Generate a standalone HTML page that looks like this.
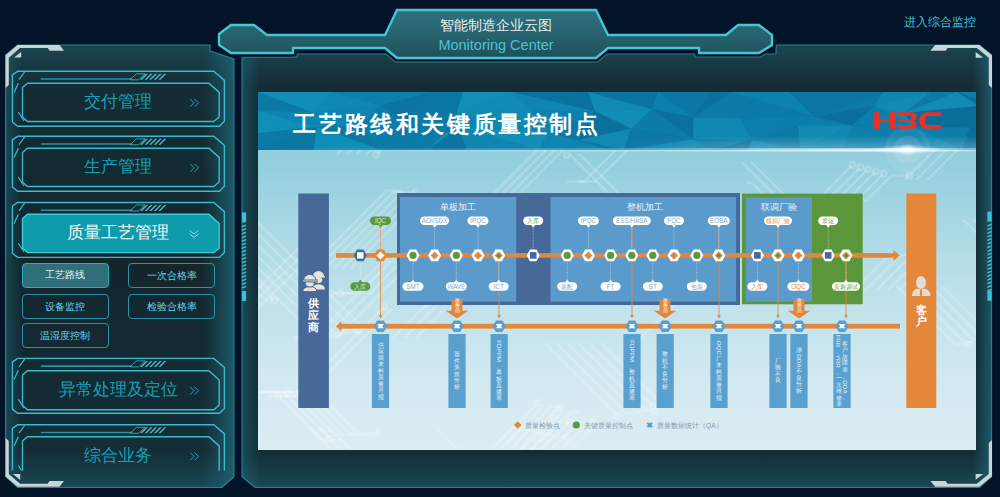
<!DOCTYPE html>
<html><head><meta charset="utf-8">
<style>
html,body{margin:0;padding:0}
body{width:1000px;height:497px;background:#041428;overflow:hidden;position:relative;font-family:"Liberation Sans",sans-serif}
.abs{position:absolute}
svg{position:absolute;left:0;top:0}
.mt{position:absolute;left:22px;width:192px;text-align:center;font-size:17px;color:#13a0b4;line-height:20px;white-space:nowrap}
.sub{position:absolute;width:87px;height:25px;border:1px solid #2a93a3;border-radius:4px;box-sizing:border-box;text-align:center;font-size:9.5px;line-height:23.5px;color:#68d6e6;white-space:nowrap}
</style></head><body>

<svg width="1000" height="497" viewBox="0 0 1000 497">
<defs>
<linearGradient id="pgv" x1="0" y1="0" x2="0" y2="1">
 <stop offset="0" stop-color="#1b4552"/><stop offset="0.09" stop-color="#142c35"/><stop offset="0.5" stop-color="#13262e"/><stop offset="0.92" stop-color="#142d37"/><stop offset="1" stop-color="#1a4855"/></linearGradient>
<linearGradient id="pgh" x1="0" y1="0" x2="1" y2="0">
 <stop offset="0" stop-color="#1c6070" stop-opacity="0.55"/><stop offset="0.07" stop-color="#1c6070" stop-opacity="0"/><stop offset="0.86" stop-color="#1c6070" stop-opacity="0"/><stop offset="1" stop-color="#1f6a7a" stop-opacity="0.75"/></linearGradient>
<linearGradient id="pgh2" x1="0" y1="0" x2="1" y2="0">
 <stop offset="0" stop-color="#1c6070" stop-opacity="0.6"/><stop offset="0.025" stop-color="#1c6070" stop-opacity="0"/><stop offset="0.975" stop-color="#1c6070" stop-opacity="0"/><stop offset="1" stop-color="#1f6a7a" stop-opacity="0.75"/></linearGradient>
<linearGradient id="hg" x1="0" y1="0" x2="0" y2="1">
 <stop offset="0" stop-color="#2e727d"/><stop offset="0.6" stop-color="#255f6b"/><stop offset="1" stop-color="#1e505c"/></linearGradient>
<linearGradient id="wg" x1="0" y1="0" x2="0" y2="1">
 <stop offset="0" stop-color="#2c6b76"/><stop offset="1" stop-color="#1f5560"/></linearGradient>
</defs>
<path d="M5.6,55 L17.6,45 L210,45 L210,51 L234,59 L234,476.7 L222,487.5 L17.6,487.5 L5.6,476.5 Z" fill="url(#pgv)"/>
<path d="M5.6,55 L17.6,45 L210,45 L210,51 L234,59 L234,476.7 L222,487.5 L17.6,487.5 L5.6,476.5 Z" fill="url(#pgh)"/>
<path d="M5.6,55 L17.6,45 L210,45 L210,51 L234,59 L234,476.7 L222,487.5 L17.6,487.5 L5.6,476.5 Z" fill="none" stroke="#2e8d9c" stroke-opacity="0.85" stroke-width="1.1"/>
<path d="M242,57 L293,57 L293,54 L776,54 L776,45 L979.6,45 L991.6,55 L991.6,476.5 L979.6,487.5 L255,487.5 L242,476.7 Z" fill="url(#pgv)"/>
<path d="M242,57 L293,57 L293,54 L776,54 L776,45 L979.6,45 L991.6,55 L991.6,476.5 L979.6,487.5 L255,487.5 L242,476.7 Z" fill="url(#pgh2)"/>
<path d="M242,57 L293,57 L293,54 L776,54 L776,45 L979.6,45 L991.6,55 L991.6,476.5 L979.6,487.5 L255,487.5 L242,476.7 Z" fill="none" stroke="#2e8d9c" stroke-opacity="0.85" stroke-width="1.1"/>
<rect x="241.9" y="212.4" width="4.2" height="10" fill="#3ec0cf"/>
<rect x="241.9" y="291" width="4.2" height="10" fill="#3ec0cf"/>
<path d="M241.9,226.0 L246.1,224.4 L246.1,226.0 L241.9,227.6 Z" fill="#3ec0cf"/>
<path d="M241.9,229.6 L246.1,228.0 L246.1,229.6 L241.9,231.2 Z" fill="#3ec0cf"/>
<path d="M241.9,233.2 L246.1,231.6 L246.1,233.2 L241.9,234.79999999999998 Z" fill="#3ec0cf"/>
<path d="M241.9,236.79999999999998 L246.1,235.2 L246.1,236.79999999999998 L241.9,238.39999999999998 Z" fill="#3ec0cf"/>
<path d="M241.9,240.39999999999998 L246.1,238.79999999999998 L246.1,240.39999999999998 L241.9,241.99999999999997 Z" fill="#3ec0cf"/>
<path d="M241.9,243.99999999999997 L246.1,242.39999999999998 L246.1,243.99999999999997 L241.9,245.59999999999997 Z" fill="#3ec0cf"/>
<path d="M241.9,247.59999999999997 L246.1,245.99999999999997 L246.1,247.59999999999997 L241.9,249.19999999999996 Z" fill="#3ec0cf"/>
<path d="M241.9,251.19999999999996 L246.1,249.59999999999997 L246.1,251.19999999999996 L241.9,252.79999999999995 Z" fill="#3ec0cf"/>
<path d="M241.9,254.79999999999995 L246.1,253.19999999999996 L246.1,254.79999999999995 L241.9,256.4 Z" fill="#3ec0cf"/>
<path d="M241.9,258.4 L246.1,256.79999999999995 L246.1,258.4 L241.9,259.99999999999994 Z" fill="#3ec0cf"/>
<path d="M241.9,262.0 L246.1,260.4 L246.1,262.0 L241.9,263.59999999999997 Z" fill="#3ec0cf"/>
<path d="M241.9,265.6 L246.1,264.0 L246.1,265.6 L241.9,267.2 Z" fill="#3ec0cf"/>
<path d="M241.9,269.20000000000005 L246.1,267.6 L246.1,269.20000000000005 L241.9,270.8 Z" fill="#3ec0cf"/>
<path d="M241.9,272.80000000000007 L246.1,271.20000000000005 L246.1,272.80000000000007 L241.9,274.40000000000003 Z" fill="#3ec0cf"/>
<path d="M241.9,276.4000000000001 L246.1,274.80000000000007 L246.1,276.4000000000001 L241.9,278.00000000000006 Z" fill="#3ec0cf"/>
<path d="M241.9,280.0000000000001 L246.1,278.4000000000001 L246.1,280.0000000000001 L241.9,281.6000000000001 Z" fill="#3ec0cf"/>
<path d="M241.9,283.60000000000014 L246.1,282.0000000000001 L246.1,283.60000000000014 L241.9,285.2000000000001 Z" fill="#3ec0cf"/>
<path d="M241.9,287.20000000000016 L246.1,285.60000000000014 L246.1,287.20000000000016 L241.9,288.8000000000001 Z" fill="#3ec0cf"/>
<rect x="987.4" y="211.6" width="4.2" height="10" fill="#3ec0cf"/>
<rect x="987.4" y="290.7" width="4.2" height="10" fill="#3ec0cf"/>
<path d="M987.4,225.2 L991.6,223.6 L991.6,225.2 L987.4,226.79999999999998 Z" fill="#3ec0cf"/>
<path d="M987.4,228.79999999999998 L991.6,227.2 L991.6,228.79999999999998 L987.4,230.39999999999998 Z" fill="#3ec0cf"/>
<path d="M987.4,232.39999999999998 L991.6,230.79999999999998 L991.6,232.39999999999998 L987.4,233.99999999999997 Z" fill="#3ec0cf"/>
<path d="M987.4,235.99999999999997 L991.6,234.39999999999998 L991.6,235.99999999999997 L987.4,237.59999999999997 Z" fill="#3ec0cf"/>
<path d="M987.4,239.59999999999997 L991.6,237.99999999999997 L991.6,239.59999999999997 L987.4,241.19999999999996 Z" fill="#3ec0cf"/>
<path d="M987.4,243.19999999999996 L991.6,241.59999999999997 L991.6,243.19999999999996 L987.4,244.79999999999995 Z" fill="#3ec0cf"/>
<path d="M987.4,246.79999999999995 L991.6,245.19999999999996 L991.6,246.79999999999995 L987.4,248.39999999999995 Z" fill="#3ec0cf"/>
<path d="M987.4,250.39999999999995 L991.6,248.79999999999995 L991.6,250.39999999999995 L987.4,251.99999999999994 Z" fill="#3ec0cf"/>
<path d="M987.4,253.99999999999994 L991.6,252.39999999999995 L991.6,253.99999999999994 L987.4,255.59999999999994 Z" fill="#3ec0cf"/>
<path d="M987.4,257.59999999999997 L991.6,255.99999999999994 L991.6,257.59999999999997 L987.4,259.19999999999993 Z" fill="#3ec0cf"/>
<path d="M987.4,261.2 L991.6,259.59999999999997 L991.6,261.2 L987.4,262.79999999999995 Z" fill="#3ec0cf"/>
<path d="M987.4,264.8 L991.6,263.2 L991.6,264.8 L987.4,266.4 Z" fill="#3ec0cf"/>
<path d="M987.4,268.40000000000003 L991.6,266.8 L991.6,268.40000000000003 L987.4,270.0 Z" fill="#3ec0cf"/>
<path d="M987.4,272.00000000000006 L991.6,270.40000000000003 L991.6,272.00000000000006 L987.4,273.6 Z" fill="#3ec0cf"/>
<path d="M987.4,275.6000000000001 L991.6,274.00000000000006 L991.6,275.6000000000001 L987.4,277.20000000000005 Z" fill="#3ec0cf"/>
<path d="M987.4,279.2000000000001 L991.6,277.6000000000001 L991.6,279.2000000000001 L987.4,280.80000000000007 Z" fill="#3ec0cf"/>
<path d="M987.4,282.8000000000001 L991.6,281.2000000000001 L991.6,282.8000000000001 L987.4,284.4000000000001 Z" fill="#3ec0cf"/>
<path d="M987.4,286.40000000000015 L991.6,284.8000000000001 L991.6,286.40000000000015 L987.4,288.0000000000001 Z" fill="#3ec0cf"/>
<path d="M987.4,290.00000000000017 L991.6,288.40000000000015 L991.6,290.00000000000017 L987.4,291.60000000000014 Z" fill="#3ec0cf"/>
<clipPath id="rpc"><path d="M242,57 L293,57 L293,54 L776,54 L776,45 L979.6,45 L991.6,55 L991.6,476.5 L979.6,487.5 L255,487.5 L242,476.7 Z"/><path d="M5.6,55 L17.6,45 L210,45 L210,51 L234,59 L234,476.7 L222,487.5 L17.6,487.5 L5.6,476.5 Z"/></clipPath>
<g clip-path="url(#rpc)"><path d="M219,34 L231,25 L254,25 L267,35 L385,35 L397,10 L596,10 L608,35 L726,35 L738,25 L759,25 L772,35 L772,45 L759,53 L699,53 L699,48 L608,48 L596,58 L397,58 L385,48 L293,48 L293,53 L231,53 L219,45 Z" fill="none" stroke="#2a6f7c" stroke-width="9.5" stroke-linejoin="miter"/></g>
<path d="M219,34 L231,25 L254,25 L267,35 L385,35 L397,10 L596,10 L608,35 L726,35 L738,25 L759,25 L772,35 L772,45 L759,53 L699,53 L699,48 L608,48 L596,58 L397,58 L385,48 L293,48 L293,53 L231,53 L219,45 Z" fill="#041428" stroke="#041428" stroke-width="7" stroke-linejoin="miter"/>
<path d="M219,34 L231,25 L254,25 L267,35 L385,35 L397,10 L596,10 L608,35 L726,35 L738,25 L759,25 L772,35 L772,45 L759,53 L699,53 L699,48 L608,48 L596,58 L397,58 L385,48 L293,48 L293,53 L231,53 L219,45 Z" fill="url(#hg)" stroke="#45c6d6" stroke-width="2.3"/>
<path d="M5.6,88 L5.6,55.2 L17.6,45 L59.6,45 L64,50.8 L49.6,50.8 L47.6,48 L20,48 L8.8,57.8 L8.8,85 Z" fill="#c8d4d8"/>
<path d="M14,57.6 L21.2,52 L21.2,57.6 Z" fill="#c8d4d8"/>
<path d="M5.6,438 L5.6,476.5 L17.6,486.7 L59.6,486.7 L64,480.9 L49.6,480.9 L47.6,483.7 L20,483.7 L8.8,473.9 L8.8,441 Z" fill="#c8d4d8"/>
<path d="M13,474 L20.2,474 L20.2,480 Z" fill="#c8d4d8"/>
<path d="M992,88 L992,55.2 L979.2,45 L935.2,45 L930.4,50.8 L945.6,50.8 L947.6,48 L976.8,48 L988.8,57.8 L988.8,85 Z" fill="#c8d4d8"/>
<path d="M975.6,52 L975.6,57.8 L983.2,57.8 Z" fill="#c8d4d8"/>
<path d="M992,440 L992,476.5 L979.2,486.7 L935.2,486.7 L930.4,480.9 L945.6,480.9 L947.6,483.7 L976.8,483.7 L988.8,473.9 L988.8,443 Z" fill="#c8d4d8"/>
<path d="M 975.6 479.7 L 975.6 473.9 L 983.2 473.9 Z" fill="#c8d4d8"/>
</svg>
<div class="abs" style="left:393px;top:16px;width:206px;text-align:center;font-size:14px;line-height:18px;color:#e6eeee">智能制造企业云图</div>
<div class="abs" style="left:393px;top:36px;width:206px;text-align:center;font-size:14.5px;line-height:18px;color:#4cc2d0">Monitoring Center</div>
<div class="abs" style="left:903.5px;top:15px;font-size:11.6px;line-height:14px;color:#3fc6de">进入综合监控</div>
<svg width="240" height="497" viewBox="0 0 240 497" style="clip-path:polygon(0 0,240px 0,240px 470.5px,0 470.5px)">
<defs><clipPath id="c5"><rect x="0" y="0" width="240" height="470.5"/></clipPath></defs>
<path d="M12.4,74.8 L17.6,71.3 L213.8,71.3 L224.4,80.39999999999999 L224.4,121.3 L219.4,126.2 L17.6,126.2 L12.4,122.0 Z" fill="none" stroke="#38bccc" stroke-width="1.4"/>
<path d="M22.5,87.5 L27.5,83.2 L208.9,83.2 L219.2,92.4 L219.2,117.0 L213.8,121.5 L27.5,121.5 L22.5,117.0 Z" fill="none" stroke="#38bccc" stroke-width="1.4"/>
<g stroke="#38bccc" stroke-width="1.2"><line x1="24.6" y1="72.0" x2="19" y2="79.7"/><line x1="18.3" y1="83.2" x2="14.1" y2="92.4"/><line x1="18.3" y1="112.0" x2="24" y2="121.0"/></g>
<line x1="40.8" y1="79.0" x2="132" y2="79.0" stroke="#2b90a0" stroke-width="1.6"/>
<path d="M130,79.8 L136.5,73.8 L145,73.8 L138.5,79.8 Z" fill="none" stroke="#3aa7b8" stroke-width="0.9"/>
<path d="M140.0,79.8 L146.0,73.8 L148.0,73.8 L142.0,79.8 Z" fill="#52b9c9"/>
<path d="M144.6,79.8 L150.6,73.8 L152.6,73.8 L146.6,79.8 Z" fill="#52b9c9"/>
<path d="M149.2,79.8 L155.2,73.8 L157.2,73.8 L151.2,79.8 Z" fill="#52b9c9"/>
<path d="M153.8,79.8 L159.8,73.8 L161.8,73.8 L155.8,79.8 Z" fill="#52b9c9"/>
<path d="M158.4,79.8 L164.4,73.8 L166.4,73.8 L160.4,79.8 Z" fill="#52b9c9"/>
<path d="M190,98.85 L194,102.85 L190,106.85 M194.5,98.85 L198.5,102.85 L194.5,106.85" fill="none" stroke="#2aa0b4" stroke-width="1"/>
<path d="M12.4,139.8 L17.6,136.3 L213.8,136.3 L224.4,145.4 L224.4,186.29999999999998 L219.4,191.2 L17.6,191.2 L12.4,187.0 Z" fill="none" stroke="#38bccc" stroke-width="1.4"/>
<path d="M22.5,152.5 L27.5,148.2 L208.9,148.2 L219.2,157.39999999999998 L219.2,182.0 L213.8,186.5 L27.5,186.5 L22.5,182.0 Z" fill="none" stroke="#38bccc" stroke-width="1.4"/>
<g stroke="#38bccc" stroke-width="1.2"><line x1="24.6" y1="137.0" x2="19" y2="144.70000000000002"/><line x1="18.3" y1="148.20000000000002" x2="14.1" y2="157.4"/><line x1="18.3" y1="177.0" x2="24" y2="186.0"/></g>
<line x1="40.8" y1="144.0" x2="132" y2="144.0" stroke="#2b90a0" stroke-width="1.6"/>
<path d="M130,144.8 L136.5,138.8 L145,138.8 L138.5,144.8 Z" fill="none" stroke="#3aa7b8" stroke-width="0.9"/>
<path d="M140.0,144.8 L146.0,138.8 L148.0,138.8 L142.0,144.8 Z" fill="#52b9c9"/>
<path d="M144.6,144.8 L150.6,138.8 L152.6,138.8 L146.6,144.8 Z" fill="#52b9c9"/>
<path d="M149.2,144.8 L155.2,138.8 L157.2,138.8 L151.2,144.8 Z" fill="#52b9c9"/>
<path d="M153.8,144.8 L159.8,138.8 L161.8,138.8 L155.8,144.8 Z" fill="#52b9c9"/>
<path d="M158.4,144.8 L164.4,138.8 L166.4,138.8 L160.4,144.8 Z" fill="#52b9c9"/>
<path d="M190,163.85 L194,167.85 L190,171.85 M194.5,163.85 L198.5,167.85 L194.5,171.85" fill="none" stroke="#2aa0b4" stroke-width="1"/>
<path d="M12.4,206.0 L17.6,202.5 L213.8,202.5 L224.4,211.6 L224.4,252.49999999999997 L219.4,257.4 L17.6,257.4 L12.4,253.2 Z" fill="none" stroke="#38bccc" stroke-width="1.4"/>
<path d="M22.5,218.60000000000002 L27.5,214.3 L208.9,214.3 L219.2,223.5 L219.2,248.1 L213.8,252.6 L27.5,252.6 L22.5,248.1 Z" fill="#0e9bab" stroke="#3fc8d8" stroke-width="1.4"/>
<g stroke="#38bccc" stroke-width="1.2"><line x1="24.6" y1="203.2" x2="19" y2="210.9"/><line x1="18.3" y1="214.4" x2="14.1" y2="223.6"/><line x1="18.3" y1="243.2" x2="24" y2="252.2"/></g>
<line x1="40.8" y1="210.2" x2="132" y2="210.2" stroke="#2b90a0" stroke-width="1.6"/>
<path d="M130,211.0 L136.5,205.0 L145,205.0 L138.5,211.0 Z" fill="none" stroke="#3aa7b8" stroke-width="0.9"/>
<path d="M140.0,211.0 L146.0,205.0 L148.0,205.0 L142.0,211.0 Z" fill="#52b9c9"/>
<path d="M144.6,211.0 L150.6,205.0 L152.6,205.0 L146.6,211.0 Z" fill="#52b9c9"/>
<path d="M149.2,211.0 L155.2,205.0 L157.2,205.0 L151.2,211.0 Z" fill="#52b9c9"/>
<path d="M153.8,211.0 L159.8,205.0 L161.8,205.0 L155.8,211.0 Z" fill="#52b9c9"/>
<path d="M158.4,211.0 L164.4,205.0 L166.4,205.0 L160.4,211.0 Z" fill="#52b9c9"/>
<path d="M189.5,230.45 L194,233.95 L198.5,230.45 M189.5,233.95 L194,237.45 L198.5,233.95" fill="none" stroke="#8be0ea" stroke-width="1"/>
<path d="M12.4,361.9 L17.6,358.4 L213.8,358.4 L224.4,367.5 L224.4,408.40000000000003 L219.4,413.3 L17.6,413.3 L12.4,409.1 Z" fill="none" stroke="#38bccc" stroke-width="1.4"/>
<path d="M22.5,375.1 L27.5,370.8 L208.9,370.8 L219.2,380.0 L219.2,405.2 L213.8,409.7 L27.5,409.7 L22.5,405.2 Z" fill="none" stroke="#38bccc" stroke-width="1.4"/>
<g stroke="#38bccc" stroke-width="1.2"><line x1="24.6" y1="359.09999999999997" x2="19" y2="366.79999999999995"/><line x1="18.3" y1="370.29999999999995" x2="14.1" y2="379.5"/><line x1="18.3" y1="399.1" x2="24" y2="408.1"/></g>
<line x1="40.8" y1="366.09999999999997" x2="132" y2="366.09999999999997" stroke="#2b90a0" stroke-width="1.6"/>
<path d="M130,366.9 L136.5,360.9 L145,360.9 L138.5,366.9 Z" fill="none" stroke="#3aa7b8" stroke-width="0.9"/>
<path d="M140.0,366.9 L146.0,360.9 L148.0,360.9 L142.0,366.9 Z" fill="#52b9c9"/>
<path d="M144.6,366.9 L150.6,360.9 L152.6,360.9 L146.6,366.9 Z" fill="#52b9c9"/>
<path d="M149.2,366.9 L155.2,360.9 L157.2,360.9 L151.2,366.9 Z" fill="#52b9c9"/>
<path d="M153.8,366.9 L159.8,360.9 L161.8,360.9 L155.8,366.9 Z" fill="#52b9c9"/>
<path d="M158.4,366.9 L164.4,360.9 L166.4,360.9 L160.4,366.9 Z" fill="#52b9c9"/>
<path d="M190,386.75 L194,390.75 L190,394.75 M194.5,386.75 L198.5,390.75 L194.5,394.75" fill="none" stroke="#2aa0b4" stroke-width="1"/>
<path d="M12.4,428.3 L17.6,424.8 L213.8,424.8 L224.4,433.90000000000003 L224.4,474.8 L219.4,479.7 L17.6,479.7 L12.4,475.5 Z" fill="none" stroke="#38bccc" stroke-width="1.4"/>
<path d="M22.5,441.0 L27.5,436.7 L208.9,436.7 L219.2,445.9 L219.2,470.5 L213.8,475 L27.5,475 L22.5,470.5 Z" fill="none" stroke="#38bccc" stroke-width="1.4"/>
<g stroke="#38bccc" stroke-width="1.2"><line x1="24.6" y1="425.5" x2="19" y2="433.2"/><line x1="18.3" y1="436.7" x2="14.1" y2="445.90000000000003"/><line x1="18.3" y1="465.5" x2="24" y2="474.5"/></g>
<line x1="40.8" y1="432.5" x2="132" y2="432.5" stroke="#2b90a0" stroke-width="1.6"/>
<path d="M130,433.3 L136.5,427.3 L145,427.3 L138.5,433.3 Z" fill="none" stroke="#3aa7b8" stroke-width="0.9"/>
<path d="M140.0,433.3 L146.0,427.3 L148.0,427.3 L142.0,433.3 Z" fill="#52b9c9"/>
<path d="M144.6,433.3 L150.6,427.3 L152.6,427.3 L146.6,433.3 Z" fill="#52b9c9"/>
<path d="M149.2,433.3 L155.2,427.3 L157.2,427.3 L151.2,433.3 Z" fill="#52b9c9"/>
<path d="M153.8,433.3 L159.8,427.3 L161.8,427.3 L155.8,433.3 Z" fill="#52b9c9"/>
<path d="M158.4,433.3 L164.4,427.3 L166.4,427.3 L160.4,433.3 Z" fill="#52b9c9"/>
<path d="M190,452.35 L194,456.35 L190,460.35 M194.5,452.35 L198.5,456.35 L194.5,460.35" fill="none" stroke="#2aa0b4" stroke-width="1"/>
</svg>
<div class="mt" style="top:91.5px">交付管理</div>
<div class="mt" style="top:156.5px">生产管理</div>
<div class="mt" style="top:223px;color:#f2f6f6">质量工艺管理</div>
<div class="mt" style="top:379.5px">异常处理及定位</div>
<div class="mt" style="top:445.5px">综合业务</div>
<div class="sub" style="left:21.5px;top:262.5px;background:#2e6f79;border:1.6px solid #1fb2c3;line-height:22px;color:#e9f1f1">工艺路线</div>
<div class="sub" style="left:128px;top:263px">一次合格率</div>
<div class="sub" style="left:21.5px;top:294px">设备监控</div>
<div class="sub" style="left:128px;top:294px">检验合格率</div>
<div class="sub" style="left:21.5px;top:323px">温湿度控制</div>
<div id="img" class="abs" style="left:258px;top:92px;width:718px;height:358px;overflow:hidden">
<svg width="718" height="358" viewBox="0 0 718 358" style="position:absolute;left:0;top:0">
<defs>
<linearGradient id="lg" x1="0" y1="0" x2="0" y2="1">
<stop offset="0" stop-color="#86c8d8"/><stop offset="0.2" stop-color="#94cfdd"/><stop offset="0.55" stop-color="#bde1ea"/><stop offset="0.8" stop-color="#d2e9f0"/><stop offset="1" stop-color="#dcedf3"/></linearGradient>
<linearGradient id="hb" x1="0" y1="0" x2="1" y2="0">
<stop offset="0" stop-color="#0c84ae"/><stop offset="0.5" stop-color="#0b78a5"/><stop offset="1" stop-color="#0a72a0"/></linearGradient>
<radialGradient id="flare" cx="0.5" cy="0.5" r="0.5">
<stop offset="0" stop-color="#ffffff" stop-opacity="1"/><stop offset="0.25" stop-color="#ffffff" stop-opacity="0.6"/><stop offset="1" stop-color="#ffffff" stop-opacity="0"/></radialGradient>
<linearGradient id="gl" x1="0" y1="0" x2="1" y2="0">
<stop offset="0" stop-color="#ffffff" stop-opacity="0"/><stop offset="0.6" stop-color="#ffffff" stop-opacity="0.35"/><stop offset="0.9" stop-color="#ffffff" stop-opacity="0.9"/><stop offset="1" stop-color="#ffffff" stop-opacity="0.3"/></linearGradient>
</defs>
<rect width="718" height="358" fill="url(#lg)"/>
<g fill="none" stroke="#ffffff" stroke-opacity="0.2" stroke-width="2.4"><path d="M-12.3,300.0 L16.6,300.0 L64.7,348.2 L83.4,348.2"/><circle cx="-12.3" cy="300.0" r="2.8"/><path d="M-3.9,300.0 L25.0,300.0 L71.4,346.4"/><circle cx="71.4" cy="346.4" r="2.8"/><circle cx="-3.9" cy="300.0" r="2.8"/><path d="M4.6,300.0 L33.5,300.0 L78.0,344.6"/><path d="M13.1,300.0 L42.0,300.0 L84.7,342.8 L114.6,342.8"/><path d="M21.5,300.0 L50.4,300.0 L91.3,341.0 L120.3,341.0"/><circle cx="120.3" cy="341.0" r="2.8"/><path d="M30.0,300.0 L58.9,300.0 L98.0,339.2"/><circle cx="30.0" cy="300.0" r="2.8"/><path d="M489.0,90.8 L493.6,90.8 L558.9,156.1"/><circle cx="558.9" cy="156.1" r="2.8"/><path d="M-58.2,128.7 L-58.2,128.7 L58.7,245.6"/><path d="M-46.9,128.7 L-46.9,128.7 L67.5,243.2 L85.0,243.2"/><path d="M-35.7,128.7 L-35.7,128.7 L76.4,240.8 L104.6,240.8"/><path d="M-24.4,128.7 L-24.4,128.7 L85.3,238.4 L100.1,238.4"/><circle cx="100.1" cy="238.4" r="2.8"/><path d="M-13.1,128.7 L-13.1,128.7 L94.2,236.0 L124.1,236.0"/><circle cx="124.1" cy="236.0" r="2.8"/><path d="M-1.8,128.7 L-1.8,128.7 L103.1,233.6 L111.3,233.6"/><path d="M287.0,251.5 L287.0,251.5 L359.2,323.8"/><circle cx="359.2" cy="323.8" r="2.8"/><path d="M298.3,251.5 L298.3,251.5 L368.1,321.4 L382.4,321.4"/><path d="M309.6,251.5 L309.6,251.5 L377.0,319.0 L397.3,319.0"/><circle cx="397.3" cy="319.0" r="2.8"/><path d="M320.8,251.5 L320.8,251.5 L385.9,316.6 L393.4,316.6"/><path d="M332.1,251.5 L332.1,251.5 L394.7,314.2"/><circle cx="394.7" cy="314.2" r="2.8"/><path d="M343.4,251.5 L343.4,251.5 L403.6,311.8"/><path d="M209.6,404.2 L217.0,404.2 L296.1,325.2"/><circle cx="296.1" cy="325.2" r="2.8"/><circle cx="209.6" cy="404.2" r="2.8"/><path d="M219.5,404.2 L226.9,404.2 L303.8,327.3"/><path d="M229.3,404.2 L236.7,404.2 L311.6,329.4"/><circle cx="311.6" cy="329.4" r="2.8"/><circle cx="229.3" cy="404.2" r="2.8"/><path d="M239.2,404.2 L246.6,404.2 L319.4,331.5 L335.4,331.5"/><circle cx="335.4" cy="331.5" r="2.8"/><circle cx="239.2" cy="404.2" r="2.8"/><path d="M249.1,404.2 L256.5,404.2 L327.1,333.6 L354.7,333.6"/><path d="M258.9,404.2 L266.4,404.2 L334.9,335.7 L347.0,335.7"/><path d="M483.3,69.8 L483.3,69.8 L593.2,179.8"/><circle cx="593.2" cy="179.8" r="2.8"/><path d="M493.2,69.8 L493.2,69.8 L601.0,177.7"/><path d="M135.0,245.9 L135.0,245.9 L168.9,212.0"/><circle cx="168.9" cy="212.0" r="2.8"/><path d="M146.3,245.9 L146.3,245.9 L177.8,214.4"/><path d="M157.6,245.9 L157.6,245.9 L186.7,216.8"/><path d="M73.7,201.2 L93.0,201.2 L126.3,167.8"/><circle cx="126.3" cy="167.8" r="2.8"/><circle cx="73.7" cy="201.2" r="2.8"/><path d="M82.2,201.2 L101.4,201.2 L133.0,169.6 L146.3,169.6"/><circle cx="82.2" cy="201.2" r="2.8"/><path d="M30.3,358.4 L30.3,358.4 L121.3,449.4"/><path d="M41.6,358.4 L41.6,358.4 L130.2,447.0 L158.5,447.0"/><circle cx="158.5" cy="447.0" r="2.8"/><path d="M595.8,198.5 L595.8,198.5 L633.3,161.0"/><path d="M607.1,198.5 L607.1,198.5 L642.2,163.4 L651.9,163.4"/><path d="M618.3,198.5 L618.3,198.5 L651.1,165.8"/><path d="M629.6,198.5 L629.6,198.5 L659.9,168.2"/><circle cx="659.9" cy="168.2" r="2.8"/><path d="M640.9,198.5 L640.9,198.5 L668.8,170.6"/><circle cx="668.8" cy="170.6" r="2.8"/><path d="M-70.3,267.0 L-70.3,267.0 L46.4,150.3"/><circle cx="46.4" cy="150.3" r="2.8"/><path d="M-60.4,267.0 L-60.4,267.0 L54.2,152.4"/><circle cx="54.2" cy="152.4" r="2.8"/><path d="M-50.5,267.0 L-50.5,267.0 L62.0,154.5 L69.5,154.5"/><path d="M228.0,362.1 L228.0,362.1 L255.3,334.7"/><path d="M237.9,362.1 L237.9,362.1 L263.1,336.8 L281.4,336.8"/><path d="M247.7,362.1 L247.7,362.1 L270.9,338.9 L277.5,338.9"/><path d="M257.6,362.1 L257.6,362.1 L278.6,341.0 L291.2,341.0"/><path d="M267.5,362.1 L267.5,362.1 L286.4,343.1 L302.6,343.1"/><path d="M277.3,362.1 L277.3,362.1 L294.2,345.2 L308.0,345.2"/><circle cx="308.0" cy="345.2" r="2.8"/><path d="M-89.0,120.2 L-89.0,120.2 L2.7,211.9"/><path d="M-80.5,120.2 L-80.5,120.2 L9.4,210.1"/><path d="M-72.1,120.2 L-72.1,120.2 L16.0,208.3"/><circle cx="16.0" cy="208.3" r="2.8"/><path d="M639.0,194.3 L639.0,194.3 L697.2,252.5 L710.7,252.5"/><circle cx="710.7" cy="252.5" r="2.8"/><path d="M650.3,194.3 L650.3,194.3 L706.1,250.1 L715.6,250.1"/><path d="M661.6,194.3 L661.6,194.3 L715.0,247.7 L728.2,247.7"/><path d="M672.9,194.3 L672.9,194.3 L723.8,245.3"/><circle cx="723.8" cy="245.3" r="2.8"/><path d="M684.1,194.3 L684.1,194.3 L732.7,242.9 L761.7,242.9"/><path d="M50.4,176.7 L50.4,176.7 L128.6,98.5 L140.7,98.5"/><path d="M58.9,176.7 L58.9,176.7 L135.2,100.3 L157.6,100.3"/><circle cx="157.6" cy="100.3" r="2.8"/><path d="M67.3,176.7 L67.3,176.7 L141.9,102.1"/><circle cx="141.9" cy="102.1" r="2.8"/><path d="M75.8,176.7 L75.8,176.7 L148.6,103.9 L177.1,103.9"/><circle cx="177.1" cy="103.9" r="2.8"/><path d="M84.3,176.7 L84.3,176.7 L155.2,105.7 L176.0,105.7"/><circle cx="176.0" cy="105.7" r="2.8"/><path d="M92.7,176.7 L92.7,176.7 L161.9,107.5 L177.1,107.5"/><circle cx="177.1" cy="107.5" r="2.8"/><path d="M36.0,394.4 L36.0,394.4 L91.1,449.4 L109.1,449.4"/><circle cx="109.1" cy="449.4" r="2.8"/><path d="M78.8,62.6 L78.9,62.6 L113.7,27.9 L133.4,27.9"/><path d="M88.7,62.6 L88.8,62.6 L121.5,30.0"/><circle cx="121.5" cy="30.0" r="2.8"/><path d="M98.6,62.6 L98.6,62.6 L129.2,32.1"/><circle cx="129.2" cy="32.1" r="2.8"/><path d="M108.4,62.6 L108.5,62.6 L137.0,34.2"/><path d="M118.3,62.6 L118.4,62.6 L144.8,36.3"/><circle cx="118.3" cy="62.6" r="2.8"/><path d="M240.8,349.8 L240.8,349.8 L279.7,311.0"/><circle cx="279.7" cy="311.0" r="2.8"/><path d="M249.3,349.8 L249.3,349.8 L286.3,312.8"/><path d="M257.8,349.8 L257.8,349.8 L293.0,314.6 L302.7,314.6"/><circle cx="302.7" cy="314.6" r="2.8"/><path d="M266.2,349.8 L266.2,349.8 L299.6,316.4"/><circle cx="299.6" cy="316.4" r="2.8"/><path d="M274.7,349.8 L274.7,349.8 L306.3,318.2"/><path d="M283.1,349.8 L283.1,349.8 L313.0,320.0 L321.3,320.0"/><path d="M178.2,182.6 L178.2,182.6 L202.0,158.9 L208.7,158.9"/><circle cx="208.7" cy="158.9" r="2.8"/><path d="M188.1,182.6 L188.1,182.6 L209.7,161.0 L221.7,161.0"/><circle cx="221.7" cy="161.0" r="2.8"/><path d="M29.7,392.0 L40.2,392.0 L68.1,364.2"/><circle cx="29.7" cy="392.0" r="2.8"/><path d="M38.1,392.0 L48.7,392.0 L74.7,366.0"/><circle cx="74.7" cy="366.0" r="2.8"/><circle cx="38.1" cy="392.0" r="2.8"/><path d="M46.6,392.0 L57.2,392.0 L81.4,367.8"/><path d="M55.1,392.0 L65.6,392.0 L88.1,369.6"/><circle cx="88.1" cy="369.6" r="2.8"/><path d="M195.1,387.8 L203.0,387.8 L302.4,487.1 L317.5,487.1"/><circle cx="195.1" cy="387.8" r="2.8"/><path d="M203.5,387.8 L211.5,387.8 L309.1,485.3"/><circle cx="309.1" cy="485.3" r="2.8"/><path d="M212.0,387.8 L220.0,387.8 L315.7,483.5 L334.1,483.5"/><circle cx="334.1" cy="483.5" r="2.8"/><path d="M220.5,387.8 L228.4,387.8 L322.4,481.7"/><path d="M228.9,387.8 L236.9,387.8 L329.1,479.9 L349.5,479.9"/><circle cx="349.5" cy="479.9" r="2.8"/><path d="M237.4,387.8 L245.3,387.8 L335.7,478.1"/><path d="M36.2,245.3 L56.1,245.3 L165.6,135.8"/><circle cx="165.6" cy="135.8" r="2.8"/><path d="M47.5,245.3 L67.4,245.3 L174.5,138.2 L185.6,138.2"/><circle cx="185.6" cy="138.2" r="2.8"/><path d="M58.8,245.3 L78.7,245.3 L183.4,140.6 L200.8,140.6"/><circle cx="200.8" cy="140.6" r="2.8"/><path d="M50.4,334.6 L50.4,334.6 L129.1,413.3"/><circle cx="129.1" cy="413.3" r="2.8"/><path d="M60.3,334.6 L60.3,334.6 L136.8,411.2 L142.9,411.2"/><path d="M70.2,334.6 L70.2,334.6 L144.6,409.1"/><path d="M704.4,128.5 L706.1,128.5 L813.0,235.5 L838.9,235.5"/><circle cx="838.9" cy="235.5" r="2.8"/><path d="M715.7,128.5 L717.3,128.5 L821.9,233.1 L843.0,233.1"/><path d="M165.0,147.1 L190.4,147.1 L289.7,47.8"/><circle cx="289.7" cy="47.8" r="2.8"/><circle cx="165.0" cy="147.1" r="2.8"/><path d="M173.4,147.1 L198.9,147.1 L296.4,49.6"/><circle cx="173.4" cy="147.1" r="2.8"/><path d="M181.9,147.1 L207.3,147.1 L303.0,51.4"/><path d="M190.3,147.1 L215.8,147.1 L309.7,53.2 L334.2,53.2"/><circle cx="334.2" cy="53.2" r="2.8"/><circle cx="190.3" cy="147.1" r="2.8"/><path d="M309.0,63.2 L312.7,63.2 L361.1,111.6"/><circle cx="309.0" cy="63.2" r="2.8"/><path d="M318.9,63.2 L322.6,63.2 L368.8,109.5"/><path d="M284.1,394.9 L294.5,394.9 L357.8,458.1"/><path d="M292.6,394.9 L303.0,394.9 L364.4,456.3"/><circle cx="364.4" cy="456.3" r="2.8"/><path d="M301.0,394.9 L311.4,394.9 L371.1,454.5 L392.5,454.5"/><circle cx="392.5" cy="454.5" r="2.8"/><circle cx="301.0" cy="394.9" r="2.8"/><path d="M365.9,262.9 L365.9,262.9 L420.4,208.4 L434.2,208.4"/><circle cx="434.2" cy="208.4" r="2.8"/><path d="M-83.5,125.0 L-80.2,125.0 L-59.1,146.0"/><circle cx="-59.1" cy="146.0" r="2.8"/><path d="M-75.0,125.0 L-71.7,125.0 L-52.5,144.2"/><circle cx="-52.5" cy="144.2" r="2.8"/><path d="M308.7,89.6 L326.0,89.6 L368.0,47.6"/><circle cx="368.0" cy="47.6" r="2.8"/><path d="M320.0,89.6 L337.3,89.6 L376.9,50.0 L390.1,50.0"/><circle cx="390.1" cy="50.0" r="2.8"/><path d="M176.0,333.1 L176.0,333.1 L253.7,410.8"/><circle cx="253.7" cy="410.8" r="2.8"/><path d="M646.9,87.8 L646.9,87.8 L744.5,-9.9 L759.4,-9.9"/><circle cx="759.4" cy="-9.9" r="2.8"/><path d="M658.2,87.8 L658.2,87.8 L753.4,-7.5 L781.4,-7.5"/><circle cx="781.4" cy="-7.5" r="2.8"/><path d="M669.5,87.8 L669.5,87.8 L762.3,-5.1 L782.3,-5.1"/><circle cx="782.3" cy="-5.1" r="2.8"/><path d="M539.1,108.0 L559.5,108.0 L594.4,73.1"/><circle cx="594.4" cy="73.1" r="2.8"/><path d="M549.0,108.0 L569.3,108.0 L602.2,75.2"/><circle cx="602.2" cy="75.2" r="2.8"/><circle cx="549.0" cy="108.0" r="2.8"/><path d="M558.9,108.0 L579.2,108.0 L609.9,77.3"/><circle cx="609.9" cy="77.3" r="2.8"/><path d="M568.8,108.0 L589.1,108.0 L617.7,79.4"/><circle cx="617.7" cy="79.4" r="2.8"/><path d="M578.6,108.0 L598.9,108.0 L625.5,81.5"/><circle cx="625.5" cy="81.5" r="2.8"/><path d="M588.5,108.0 L608.8,108.0 L633.3,83.6 L651.3,83.6"/><circle cx="651.3" cy="83.6" r="2.8"/><circle cx="588.5" cy="108.0" r="2.8"/><path d="M16.9,395.4 L16.9,395.4 L103.6,482.1 L118.1,482.1"/><path d="M10.1,304.0 L37.2,304.0 L126.3,214.8"/><circle cx="126.3" cy="214.8" r="2.8"/><path d="M19.9,304.0 L47.0,304.0 L134.1,216.9"/><circle cx="19.9" cy="304.0" r="2.8"/><path d="M-71.6,310.2 L-71.6,310.2 L-18.9,363.0"/><circle cx="-18.9" cy="363.0" r="2.8"/><path d="M-61.8,310.2 L-61.8,310.2 L-11.1,360.9"/><path d="M-51.9,310.2 L-51.9,310.2 L-3.3,358.8 L26.3,358.8"/></g>
<rect width="718" height="58" fill="url(#hb)"/>
<polygon points="0.0,0.0 73.7,0.0 53.5,20.1" fill="#159ac1" fill-opacity="0.5"/>
<polygon points="0.0,0.0 53.5,20.1 0.0,19.2" fill="#0a6f9c" fill-opacity="0.5"/>
<polygon points="0.0,19.2 53.5,20.1 58.8,35.0" fill="#0f88b3" fill-opacity="0.5"/>
<polygon points="0.0,19.2 58.8,35.0 0.0,41.0" fill="#159ac1" fill-opacity="0.5"/>
<polygon points="0.0,41.0 58.8,35.0 0.0,58.0" fill="#0a6f9c" fill-opacity="0.5"/>
<polygon points="58.8,35.0 55.5,58.0 0.0,58.0" fill="#0a6a96" fill-opacity="0.5"/>
<polygon points="73.7,0.0 115.7,0.0 122.9,13.5" fill="#0d80ac" fill-opacity="0.5"/>
<polygon points="73.7,0.0 122.9,13.5 53.5,20.1" fill="#1290b9" fill-opacity="0.5"/>
<polygon points="53.5,20.1 122.9,13.5 101.3,33.5" fill="#0f88b3" fill-opacity="0.5"/>
<polygon points="53.5,20.1 101.3,33.5 58.8,35.0" fill="#0f88b3" fill-opacity="0.5"/>
<polygon points="58.8,35.0 101.3,33.5 123.6,58.0" fill="#0a6f9c" fill-opacity="0.5"/>
<polygon points="58.8,35.0 123.6,58.0 55.5,58.0" fill="#159ac1" fill-opacity="0.5"/>
<polygon points="115.7,0.0 173.5,0.0 122.9,13.5" fill="#0d80ac" fill-opacity="0.5"/>
<polygon points="173.5,0.0 144.8,27.7 122.9,13.5" fill="#0a6a96" fill-opacity="0.5"/>
<polygon points="122.9,13.5 144.8,27.7 185.4,42.5" fill="#0a6a96" fill-opacity="0.5"/>
<polygon points="122.9,13.5 185.4,42.5 101.3,33.5" fill="#0b78a5" fill-opacity="0.5"/>
<polygon points="101.3,33.5 185.4,42.5 123.6,58.0" fill="#0b78a5" fill-opacity="0.5"/>
<polygon points="185.4,42.5 170.1,58.0 123.6,58.0" fill="#0b78a5" fill-opacity="0.5"/>
<polygon points="173.5,0.0 204.9,0.0 198.7,20.5" fill="#0a6f9c" fill-opacity="0.5"/>
<polygon points="173.5,0.0 198.7,20.5 144.8,27.7" fill="#0a6f9c" fill-opacity="0.5"/>
<polygon points="144.8,27.7 198.7,20.5 185.4,42.5" fill="#0b78a5" fill-opacity="0.5"/>
<polygon points="198.7,20.5 200.6,35.0 185.4,42.5" fill="#0a6f9c" fill-opacity="0.5"/>
<polygon points="185.4,42.5 200.6,35.0 170.1,58.0" fill="#1aa2c6" fill-opacity="0.5"/>
<polygon points="200.6,35.0 208.6,58.0 170.1,58.0" fill="#0a6a96" fill-opacity="0.5"/>
<polygon points="204.9,0.0 254.3,0.0 198.7,20.5" fill="#1aa2c6" fill-opacity="0.5"/>
<polygon points="254.3,0.0 273.4,19.0 198.7,20.5" fill="#159ac1" fill-opacity="0.5"/>
<polygon points="198.7,20.5 273.4,19.0 290.1,40.3" fill="#159ac1" fill-opacity="0.5"/>
<polygon points="198.7,20.5 290.1,40.3 200.6,35.0" fill="#1290b9" fill-opacity="0.5"/>
<polygon points="200.6,35.0 290.1,40.3 281.2,58.0" fill="#1aa2c6" fill-opacity="0.5"/>
<polygon points="200.6,35.0 281.2,58.0 208.6,58.0" fill="#1290b9" fill-opacity="0.5"/>
<polygon points="254.3,0.0 330.0,0.0 337.1,19.3" fill="#0a6a96" fill-opacity="0.5"/>
<polygon points="254.3,0.0 337.1,19.3 273.4,19.0" fill="#1290b9" fill-opacity="0.5"/>
<polygon points="273.4,19.0 337.1,19.3 290.1,40.3" fill="#0f88b3" fill-opacity="0.5"/>
<polygon points="337.1,19.3 320.2,48.0 290.1,40.3" fill="#0b78a5" fill-opacity="0.5"/>
<polygon points="290.1,40.3 320.2,48.0 351.8,58.0" fill="#0f88b3" fill-opacity="0.5"/>
<polygon points="290.1,40.3 351.8,58.0 281.2,58.0" fill="#1290b9" fill-opacity="0.5"/>
<polygon points="330.0,0.0 400.0,0.0 394.1,17.0" fill="#0a6f9c" fill-opacity="0.5"/>
<polygon points="330.0,0.0 394.1,17.0 337.1,19.3" fill="#159ac1" fill-opacity="0.5"/>
<polygon points="337.1,19.3 394.1,17.0 373.1,36.6" fill="#1aa2c6" fill-opacity="0.5"/>
<polygon points="337.1,19.3 373.1,36.6 320.2,48.0" fill="#0a6a96" fill-opacity="0.5"/>
<polygon points="320.2,48.0 373.1,36.6 366.1,58.0" fill="#159ac1" fill-opacity="0.5"/>
<polygon points="320.2,48.0 366.1,58.0 351.8,58.0" fill="#0b78a5" fill-opacity="0.5"/>
<polygon points="400.0,0.0 451.7,0.0 435.6,25.5" fill="#0b78a5" fill-opacity="0.5"/>
<polygon points="400.0,0.0 435.6,25.5 394.1,17.0" fill="#0f88b3" fill-opacity="0.5"/>
<polygon points="394.1,17.0 435.6,25.5 435.0,47.3" fill="#0a6a96" fill-opacity="0.5"/>
<polygon points="394.1,17.0 435.0,47.3 373.1,36.6" fill="#0d80ac" fill-opacity="0.5"/>
<polygon points="373.1,36.6 435.0,47.3 366.1,58.0" fill="#0b78a5" fill-opacity="0.5"/>
<polygon points="435.0,47.3 455.3,58.0 366.1,58.0" fill="#159ac1" fill-opacity="0.5"/>
<polygon points="451.7,0.0 473.0,0.0 435.6,25.5" fill="#0a6a96" fill-opacity="0.5"/>
<polygon points="473.0,0.0 482.2,26.6 435.6,25.5" fill="#0d80ac" fill-opacity="0.5"/>
<polygon points="435.6,25.5 482.2,26.6 435.0,47.3" fill="#159ac1" fill-opacity="0.5"/>
<polygon points="482.2,26.6 493.7,47.7 435.0,47.3" fill="#159ac1" fill-opacity="0.5"/>
<polygon points="435.0,47.3 493.7,47.7 455.3,58.0" fill="#0f88b3" fill-opacity="0.5"/>
<polygon points="493.7,47.7 490.5,58.0 455.3,58.0" fill="#0a6a96" fill-opacity="0.5"/>
<polygon points="473.0,0.0 531.2,0.0 555.7,24.5" fill="#1290b9" fill-opacity="0.5"/>
<polygon points="473.0,0.0 555.7,24.5 482.2,26.6" fill="#0d80ac" fill-opacity="0.5"/>
<polygon points="482.2,26.6 555.7,24.5 539.9,33.4" fill="#0f88b3" fill-opacity="0.5"/>
<polygon points="482.2,26.6 539.9,33.4 493.7,47.7" fill="#0f88b3" fill-opacity="0.5"/>
<polygon points="493.7,47.7 539.9,33.4 542.6,58.0" fill="#0d80ac" fill-opacity="0.5"/>
<polygon points="493.7,47.7 542.6,58.0 490.5,58.0" fill="#159ac1" fill-opacity="0.5"/>
<polygon points="531.2,0.0 625.4,0.0 555.7,24.5" fill="#0b78a5" fill-opacity="0.5"/>
<polygon points="625.4,0.0 616.4,13.9 555.7,24.5" fill="#0d80ac" fill-opacity="0.5"/>
<polygon points="555.7,24.5 616.4,13.9 593.8,33.6" fill="#0a6a96" fill-opacity="0.5"/>
<polygon points="555.7,24.5 593.8,33.6 539.9,33.4" fill="#0f88b3" fill-opacity="0.5"/>
<polygon points="539.9,33.4 593.8,33.6 542.6,58.0" fill="#1aa2c6" fill-opacity="0.5"/>
<polygon points="593.8,33.6 585.6,58.0 542.6,58.0" fill="#159ac1" fill-opacity="0.5"/>
<polygon points="625.4,0.0 673.1,0.0 616.4,13.9" fill="#159ac1" fill-opacity="0.5"/>
<polygon points="673.1,0.0 645.8,20.9 616.4,13.9" fill="#1aa2c6" fill-opacity="0.5"/>
<polygon points="616.4,13.9 645.8,20.9 657.7,35.1" fill="#159ac1" fill-opacity="0.5"/>
<polygon points="616.4,13.9 657.7,35.1 593.8,33.6" fill="#0f88b3" fill-opacity="0.5"/>
<polygon points="593.8,33.6 657.7,35.1 670.2,58.0" fill="#0f88b3" fill-opacity="0.5"/>
<polygon points="593.8,33.6 670.2,58.0 585.6,58.0" fill="#1290b9" fill-opacity="0.5"/>
<polygon points="673.1,0.0 698.8,0.0 645.8,20.9" fill="#0d80ac" fill-opacity="0.5"/>
<polygon points="698.8,0.0 721.3,13.9 645.8,20.9" fill="#1aa2c6" fill-opacity="0.5"/>
<polygon points="645.8,20.9 721.3,13.9 657.7,35.1" fill="#0a6a96" fill-opacity="0.5"/>
<polygon points="721.3,13.9 711.5,35.4 657.7,35.1" fill="#0a6a96" fill-opacity="0.5"/>
<polygon points="657.7,35.1 711.5,35.4 704.9,58.0" fill="#0f88b3" fill-opacity="0.5"/>
<polygon points="657.7,35.1 704.9,58.0 670.2,58.0" fill="#159ac1" fill-opacity="0.5"/>
<polygon points="698.8,0.0 770.0,0.0 770.0,27.5" fill="#0f88b3" fill-opacity="0.5"/>
<polygon points="698.8,0.0 770.0,27.5 721.3,13.9" fill="#0a6a96" fill-opacity="0.5"/>
<polygon points="721.3,13.9 770.0,27.5 770.0,44.9" fill="#0f88b3" fill-opacity="0.5"/>
<polygon points="721.3,13.9 770.0,44.9 711.5,35.4" fill="#0a6a96" fill-opacity="0.5"/>
<polygon points="711.5,35.4 770.0,44.9 704.9,58.0" fill="#0a6a96" fill-opacity="0.5"/>
<polygon points="770.0,44.9 770.0,58.0 704.9,58.0" fill="#1290b9" fill-opacity="0.5"/>
<defs><linearGradient id="bandv" x1="0" y1="0" x2="0" y2="1"><stop offset="0" stop-color="#ffffff" stop-opacity="0"/><stop offset="1" stop-color="#ffffff" stop-opacity="0.28"/></linearGradient><linearGradient id="bandh" x1="0" y1="0" x2="1" y2="0"><stop offset="0" stop-color="#000" stop-opacity="1"/><stop offset="0.5" stop-color="#000" stop-opacity="1"/><stop offset="0.7" stop-color="#fff" stop-opacity="1"/><stop offset="1" stop-color="#fff" stop-opacity="1"/></linearGradient><mask id="bandm"><rect width="718" height="60" fill="url(#bandh)"/></mask></defs>
<rect x="0" y="44" width="718" height="14" fill="url(#bandv)" mask="url(#bandm)"/>
<rect x="0" y="56.3" width="718" height="3.2" fill="url(#gl)"/>
<circle cx="649.5" cy="57.69999999999999" r="23" fill="#ffffff" fill-opacity="0.07"/>
<circle cx="649.5" cy="57.69999999999999" r="14" fill="#ffffff" fill-opacity="0.10"/>
<ellipse cx="649.5" cy="57.69999999999999" rx="34" ry="5" fill="url(#flare)"/>
<ellipse cx="649.5" cy="57.69999999999999" rx="10" ry="6" fill="url(#flare)"/>
<text x="35.39999999999998" y="40" font-size="22.6" font-weight="bold" fill="#ffffff" letter-spacing="2.6" font-family="Liberation Sans, sans-serif">工艺路线和关键质量控制点</text>
<g transform="translate(-258,-92)" fill="#e5332a"><rect x="873.5" y="112.2" width="5.5" height="16.6"/><rect x="890" y="112.2" width="5.2" height="16.6"/><rect x="879" y="119.3" width="11" height="2.8"/><path d="M897.3,112.2 H910 C914.5,112.2 916.9,113.8 916.9,116.5 C916.9,118.7 915.5,120.2 913.5,120.8 C915.5,121.3 916.9,122.8 916.9,125 C916.9,127.5 914.5,128.8 910,128.8 H897.3 V125 H909.5 C911,125 911.5,124.2 911.5,123.6 C911.5,122.8 911,122.1 909.5,122.1 H898 V119.3 H909.5 C911,119.3 911.5,118.6 911.5,117.8 C911.5,116.9 911,116 909.5,116 H897.3 Z"/><path d="M941.1,112.2 H927 C922,112.2 919.4,115.5 919.4,120.5 C919.4,125.5 922,128.8 927,128.8 H941.1 V125 H928 C925.5,125 925,123 925,120.5 C925,118 925.5,116 928,116 H941.1 Z"/></g>
<rect x="40.30000000000001" y="101.5" width="30.6" height="214.5" fill="#46699a"/>
<rect x="648.3" y="101.5" width="30" height="214.5" fill="#e3873a"/>
<rect x="139" y="101" width="343" height="112" fill="#46699a"/>
<rect x="142" y="105" width="116.20000000000005" height="104.60000000000002" fill="#5b9bcb"/>
<rect x="292.5" y="105" width="185.60000000000002" height="104.60000000000002" fill="#5b9bcb"/>
<rect x="484" y="101.6" width="120.70000000000005" height="110.70000000000002" fill="#5b963b"/>
<rect x="487.79999999999995" y="105.5" width="66.20000000000005" height="104.19999999999999" fill="#5b9bcb"/>
<text x="200" y="118" font-size="9" fill="#e8f2f8" text-anchor="middle" font-family="Liberation Sans, sans-serif">单板加工</text>
<text x="387" y="118" font-size="9" fill="#e8f2f8" text-anchor="middle" font-family="Liberation Sans, sans-serif">整机加工</text>
<text x="521" y="118" font-size="9" fill="#e8f2f8" text-anchor="middle" font-family="Liberation Sans, sans-serif">联调厂验</text>
<line x1="122.5" y1="135" x2="122.5" y2="225" stroke="#e48a40" stroke-opacity="0.85" stroke-width="1"/>
<path d="M120.7,223 L124.3,223 L122.5,226.5 Z" fill="#e3873a"/>
<line x1="241" y1="170" x2="241" y2="225" stroke="#e48a40" stroke-opacity="0.85" stroke-width="1"/>
<path d="M239.2,223 L242.8,223 L241,226.5 Z" fill="#e3873a"/>
<line x1="374" y1="135" x2="374" y2="225" stroke="#e48a40" stroke-opacity="0.85" stroke-width="1"/>
<path d="M372.2,223 L375.8,223 L374,226.5 Z" fill="#e3873a"/>
<line x1="461" y1="135" x2="461" y2="225" stroke="#e48a40" stroke-opacity="0.85" stroke-width="1"/>
<path d="M459.2,223 L462.8,223 L461,226.5 Z" fill="#e3873a"/>
<line x1="520" y1="135" x2="520" y2="225" stroke="#e48a40" stroke-opacity="0.85" stroke-width="1"/>
<path d="M518.2,223 L521.8,223 L520,226.5 Z" fill="#e3873a"/>
<line x1="588" y1="170" x2="588" y2="225" stroke="#e48a40" stroke-opacity="0.85" stroke-width="1"/>
<path d="M586.2,223 L589.8,223 L588,226.5 Z" fill="#e3873a"/>
<rect x="78" y="161.1" width="558" height="4.6" fill="#e3873a"/>
<path d="M635.5,157.9 L641.8,163.4 L635.5,168.89999999999998 Z" fill="#e3873a"/>
<rect x="83" y="231.8" width="559" height="4.8" fill="#e3873a"/>
<path d="M83.30000000000001,229.2 L77.89999999999998,234.2 L83.30000000000001,239.2 Z" fill="#e3873a"/>
<line x1="122.5" y1="135" x2="122.5" y2="158" stroke="#ffffff" stroke-opacity="0.7" stroke-width="0.7" stroke-dasharray="1,1.2"/>
<line x1="176.60000000000002" y1="135" x2="176.60000000000002" y2="158" stroke="#ffffff" stroke-opacity="0.7" stroke-width="0.7" stroke-dasharray="1,1.2"/>
<line x1="220" y1="135" x2="220" y2="158" stroke="#ffffff" stroke-opacity="0.7" stroke-width="0.7" stroke-dasharray="1,1.2"/>
<line x1="275.20000000000005" y1="135" x2="275.20000000000005" y2="158" stroke="#ffffff" stroke-opacity="0.7" stroke-width="0.7" stroke-dasharray="1,1.2"/>
<line x1="330.4" y1="135" x2="330.4" y2="158" stroke="#ffffff" stroke-opacity="0.7" stroke-width="0.7" stroke-dasharray="1,1.2"/>
<line x1="373.79999999999995" y1="135" x2="373.79999999999995" y2="158" stroke="#ffffff" stroke-opacity="0.7" stroke-width="0.7" stroke-dasharray="1,1.2"/>
<line x1="416" y1="135" x2="416" y2="158" stroke="#ffffff" stroke-opacity="0.7" stroke-width="0.7" stroke-dasharray="1,1.2"/>
<line x1="460.79999999999995" y1="135" x2="460.79999999999995" y2="158" stroke="#ffffff" stroke-opacity="0.7" stroke-width="0.7" stroke-dasharray="1,1.2"/>
<line x1="520" y1="135" x2="520" y2="158" stroke="#ffffff" stroke-opacity="0.7" stroke-width="0.7" stroke-dasharray="1,1.2"/>
<line x1="570.2" y1="135" x2="570.2" y2="158" stroke="#ffffff" stroke-opacity="0.7" stroke-width="0.7" stroke-dasharray="1,1.2"/>
<line x1="102.30000000000001" y1="169" x2="102.30000000000001" y2="188" stroke="#ffffff" stroke-opacity="0.7" stroke-width="0.7" stroke-dasharray="1,1.2"/>
<line x1="155" y1="169" x2="155" y2="188" stroke="#ffffff" stroke-opacity="0.7" stroke-width="0.7" stroke-dasharray="1,1.2"/>
<line x1="198.3" y1="169" x2="198.3" y2="188" stroke="#ffffff" stroke-opacity="0.7" stroke-width="0.7" stroke-dasharray="1,1.2"/>
<line x1="240.7" y1="169" x2="240.7" y2="188" stroke="#ffffff" stroke-opacity="0.7" stroke-width="0.7" stroke-dasharray="1,1.2"/>
<line x1="309.20000000000005" y1="169" x2="309.20000000000005" y2="188" stroke="#ffffff" stroke-opacity="0.7" stroke-width="0.7" stroke-dasharray="1,1.2"/>
<line x1="352.6" y1="169" x2="352.6" y2="188" stroke="#ffffff" stroke-opacity="0.7" stroke-width="0.7" stroke-dasharray="1,1.2"/>
<line x1="394.79999999999995" y1="169" x2="394.79999999999995" y2="188" stroke="#ffffff" stroke-opacity="0.7" stroke-width="0.7" stroke-dasharray="1,1.2"/>
<line x1="438.79999999999995" y1="169" x2="438.79999999999995" y2="188" stroke="#ffffff" stroke-opacity="0.7" stroke-width="0.7" stroke-dasharray="1,1.2"/>
<line x1="499.4" y1="169" x2="499.4" y2="188" stroke="#ffffff" stroke-opacity="0.7" stroke-width="0.7" stroke-dasharray="1,1.2"/>
<line x1="540.4" y1="169" x2="540.4" y2="188" stroke="#ffffff" stroke-opacity="0.7" stroke-width="0.7" stroke-dasharray="1,1.2"/>
<line x1="588" y1="169" x2="588" y2="188" stroke="#ffffff" stroke-opacity="0.7" stroke-width="0.7" stroke-dasharray="1,1.2"/>
<path d="M120.0,132.5 L122.5,135.5 L125.0,132.5 Z" fill="#5b9a3c"/>
<rect x="112.0" y="124.6" width="21" height="8.4" rx="4.2" fill="#5b9a3c"/>
<text x="122.5" y="131.2" font-size="6.3" fill="#d6ebc8" text-anchor="middle" font-family="Liberation Sans, sans-serif">IQC</text>
<path d="M174.10000000000002,132.5 L176.60000000000002,135.5 L179.10000000000002,132.5 Z" fill="#ffffff"/>
<rect x="162.10000000000002" y="124.6" width="29" height="8.4" rx="4.2" fill="#ffffff"/>
<text x="176.60000000000002" y="131.2" font-size="6.3" fill="#86a8c6" text-anchor="middle" font-family="Liberation Sans, sans-serif">AOI/SDX</text>
<path d="M217.5,132.5 L220,135.5 L222.5,132.5 Z" fill="#ffffff"/>
<rect x="209.5" y="124.6" width="21" height="8.4" rx="4.2" fill="#ffffff"/>
<text x="220" y="131.2" font-size="6.3" fill="#86a8c6" text-anchor="middle" font-family="Liberation Sans, sans-serif">IPQC</text>
<path d="M272.70000000000005,132.5 L275.20000000000005,135.5 L277.70000000000005,132.5 Z" fill="#ffffff"/>
<rect x="265.20000000000005" y="124.6" width="20" height="8.4" rx="4.2" fill="#ffffff"/>
<text x="275.20000000000005" y="131.2" font-size="6.3" fill="#5b9a3c" text-anchor="middle" font-family="Liberation Sans, sans-serif">入库</text>
<path d="M327.9,132.5 L330.4,135.5 L332.9,132.5 Z" fill="#ffffff"/>
<rect x="319.9" y="124.6" width="21" height="8.4" rx="4.2" fill="#ffffff"/>
<text x="330.4" y="131.2" font-size="6.3" fill="#86a8c6" text-anchor="middle" font-family="Liberation Sans, sans-serif">IPQC</text>
<path d="M371.29999999999995,132.5 L373.79999999999995,135.5 L376.29999999999995,132.5 Z" fill="#ffffff"/>
<rect x="354.79999999999995" y="124.6" width="38" height="8.4" rx="4.2" fill="#ffffff"/>
<text x="373.79999999999995" y="131.2" font-size="6.3" fill="#86a8c6" text-anchor="middle" font-family="Liberation Sans, sans-serif">ESS/HASA</text>
<path d="M413.5,132.5 L416,135.5 L418.5,132.5 Z" fill="#ffffff"/>
<rect x="406.0" y="124.6" width="20" height="8.4" rx="4.2" fill="#ffffff"/>
<text x="416" y="131.2" font-size="6.3" fill="#86a8c6" text-anchor="middle" font-family="Liberation Sans, sans-serif">FQC</text>
<path d="M458.29999999999995,132.5 L460.79999999999995,135.5 L463.29999999999995,132.5 Z" fill="#ffffff"/>
<rect x="449.79999999999995" y="124.6" width="22" height="8.4" rx="4.2" fill="#ffffff"/>
<text x="460.79999999999995" y="131.2" font-size="6.3" fill="#86a8c6" text-anchor="middle" font-family="Liberation Sans, sans-serif">EOBA</text>
<path d="M517.5,132.5 L520,135.5 L522.5,132.5 Z" fill="#ffffff"/>
<rect x="506.0" y="124.6" width="28" height="8.4" rx="4.2" fill="#ffffff"/>
<text x="520" y="131.2" font-size="6.3" fill="#e3873a" text-anchor="middle" font-family="Liberation Sans, sans-serif">模拟厂验</text>
<path d="M567.7,132.5 L570.2,135.5 L572.7,132.5 Z" fill="#ffffff"/>
<rect x="560.2" y="124.6" width="20" height="8.4" rx="4.2" fill="#ffffff"/>
<text x="570.2" y="131.2" font-size="6.3" fill="#5b9a3c" text-anchor="middle" font-family="Liberation Sans, sans-serif">发运</text>
<path d="M99.80000000000001,190.8 L102.30000000000001,187.8 L104.80000000000001,190.8 Z" fill="#5b9a3c"/>
<rect x="92.30000000000001" y="190.3" width="20" height="8.4" rx="4.2" fill="#5b9a3c"/>
<text x="102.30000000000001" y="196.9" font-size="6.3" fill="#d6ebc8" text-anchor="middle" font-family="Liberation Sans, sans-serif">入库</text>
<path d="M152.5,190.8 L155,187.8 L157.5,190.8 Z" fill="#ffffff"/>
<rect x="144.5" y="190.3" width="21" height="8.4" rx="4.2" fill="#ffffff"/>
<text x="155" y="196.9" font-size="6.3" fill="#86a8c6" text-anchor="middle" font-family="Liberation Sans, sans-serif">SMT</text>
<path d="M195.8,190.8 L198.3,187.8 L200.8,190.8 Z" fill="#ffffff"/>
<rect x="187.8" y="190.3" width="21" height="8.4" rx="4.2" fill="#ffffff"/>
<text x="198.3" y="196.9" font-size="6.3" fill="#86a8c6" text-anchor="middle" font-family="Liberation Sans, sans-serif">WAVE</text>
<path d="M238.2,190.8 L240.7,187.8 L243.2,190.8 Z" fill="#ffffff"/>
<rect x="230.7" y="190.3" width="20" height="8.4" rx="4.2" fill="#ffffff"/>
<text x="240.7" y="196.9" font-size="6.3" fill="#86a8c6" text-anchor="middle" font-family="Liberation Sans, sans-serif">ICT</text>
<path d="M306.70000000000005,190.8 L309.20000000000005,187.8 L311.70000000000005,190.8 Z" fill="#ffffff"/>
<rect x="299.20000000000005" y="190.3" width="20" height="8.4" rx="4.2" fill="#ffffff"/>
<text x="309.20000000000005" y="196.9" font-size="6.3" fill="#86a8c6" text-anchor="middle" font-family="Liberation Sans, sans-serif">装配</text>
<path d="M350.1,190.8 L352.6,187.8 L355.1,190.8 Z" fill="#ffffff"/>
<rect x="342.6" y="190.3" width="20" height="8.4" rx="4.2" fill="#ffffff"/>
<text x="352.6" y="196.9" font-size="6.3" fill="#86a8c6" text-anchor="middle" font-family="Liberation Sans, sans-serif">FT</text>
<path d="M392.29999999999995,190.8 L394.79999999999995,187.8 L397.29999999999995,190.8 Z" fill="#ffffff"/>
<rect x="384.79999999999995" y="190.3" width="20" height="8.4" rx="4.2" fill="#ffffff"/>
<text x="394.79999999999995" y="196.9" font-size="6.3" fill="#86a8c6" text-anchor="middle" font-family="Liberation Sans, sans-serif">ST</text>
<path d="M436.29999999999995,190.8 L438.79999999999995,187.8 L441.29999999999995,190.8 Z" fill="#ffffff"/>
<rect x="428.79999999999995" y="190.3" width="20" height="8.4" rx="4.2" fill="#ffffff"/>
<text x="438.79999999999995" y="196.9" font-size="6.3" fill="#86a8c6" text-anchor="middle" font-family="Liberation Sans, sans-serif">包装</text>
<path d="M496.9,190.8 L499.4,187.8 L501.9,190.8 Z" fill="#ffffff"/>
<rect x="489.4" y="190.3" width="20" height="8.4" rx="4.2" fill="#ffffff"/>
<text x="499.4" y="196.9" font-size="6.3" fill="#e3873a" text-anchor="middle" font-family="Liberation Sans, sans-serif">入库</text>
<path d="M537.9,190.8 L540.4,187.8 L542.9,190.8 Z" fill="#ffffff"/>
<rect x="529.4" y="190.3" width="22" height="8.4" rx="4.2" fill="#ffffff"/>
<text x="540.4" y="196.9" font-size="6.3" fill="#e3873a" text-anchor="middle" font-family="Liberation Sans, sans-serif">OQC</text>
<path d="M585.5,190.8 L588,187.8 L590.5,190.8 Z" fill="#ffffff"/>
<rect x="574.0" y="190.3" width="28" height="8.4" rx="4.2" fill="#ffffff"/>
<text x="588" y="196.9" font-size="6.3" fill="#5b9a3c" text-anchor="middle" font-family="Liberation Sans, sans-serif">安装调试</text>
<path d="M95.80000000000001,163.4 L99.05000000000001,157.6 L105.55000000000001,157.6 L108.80000000000001,163.4 L105.55000000000001,169.20000000000002 L99.05000000000001,169.20000000000002 Z" fill="#46699a"/>
<rect x="99.10000000000001" y="160.20000000000002" width="6.4" height="6.4" fill="#fff"/>
<path d="M116.0,163.4 L119.25,157.6 L125.75,157.6 L129.0,163.4 L125.75,169.20000000000002 L119.25,169.20000000000002 Z" fill="#e3873a"/>
<path d="M122.5,159.4 L126.5,163.4 L122.5,167.4 L118.5,163.4 Z" fill="#fff"/>
<path d="M148.5,163.4 L151.75,157.6 L158.25,157.6 L161.5,163.4 L158.25,169.20000000000002 L151.75,169.20000000000002 Z" fill="#fff"/>
<circle cx="155" cy="163.4" r="3.6" fill="#5b9a3c"/>
<path d="M170.10000000000002,163.4 L173.35000000000002,157.6 L179.85000000000002,157.6 L183.10000000000002,163.4 L179.85000000000002,169.20000000000002 L173.35000000000002,169.20000000000002 Z" fill="#fff"/>
<path d="M176.60000000000002,159.4 L180.60000000000002,163.4 L176.60000000000002,167.4 L172.60000000000002,163.4 Z" fill="#e3873a"/>
<path d="M191.8,163.4 L195.05,157.6 L201.55,157.6 L204.8,163.4 L201.55,169.20000000000002 L195.05,169.20000000000002 Z" fill="#fff"/>
<circle cx="198.3" cy="163.4" r="3.6" fill="#5b9a3c"/>
<path d="M213.5,163.4 L216.75,157.6 L223.25,157.6 L226.5,163.4 L223.25,169.20000000000002 L216.75,169.20000000000002 Z" fill="#fff"/>
<path d="M220,159.4 L224,163.4 L220,167.4 L216,163.4 Z" fill="#e3873a"/>
<path d="M234.2,163.4 L237.45,157.6 L243.95,157.6 L247.2,163.4 L243.95,169.20000000000002 L237.45,169.20000000000002 Z" fill="#fff"/>
<path d="M240.7,159.4 L244.7,163.4 L240.7,167.4 L236.7,163.4 Z" fill="#e3873a"/>
<circle cx="240.7" cy="163.4" r="2" fill="#5b9a3c"/>
<path d="M268.70000000000005,163.4 L271.95000000000005,157.6 L278.45000000000005,157.6 L281.70000000000005,163.4 L278.45000000000005,169.20000000000002 L271.95000000000005,169.20000000000002 Z" fill="#fff"/>
<rect x="271.90000000000003" y="160.1" width="6.6" height="6.6" fill="#46699a"/>
<path d="M302.70000000000005,163.4 L305.95000000000005,157.6 L312.45000000000005,157.6 L315.70000000000005,163.4 L312.45000000000005,169.20000000000002 L305.95000000000005,169.20000000000002 Z" fill="#fff"/>
<circle cx="309.20000000000005" cy="163.4" r="3.6" fill="#5b9a3c"/>
<path d="M323.9,163.4 L327.15,157.6 L333.65,157.6 L336.9,163.4 L333.65,169.20000000000002 L327.15,169.20000000000002 Z" fill="#fff"/>
<path d="M330.4,159.4 L334.4,163.4 L330.4,167.4 L326.4,163.4 Z" fill="#e3873a"/>
<path d="M346.1,163.4 L349.35,157.6 L355.85,157.6 L359.1,163.4 L355.85,169.20000000000002 L349.35,169.20000000000002 Z" fill="#fff"/>
<circle cx="352.6" cy="163.4" r="3.6" fill="#5b9a3c"/>
<path d="M367.29999999999995,163.4 L370.54999999999995,157.6 L377.04999999999995,157.6 L380.29999999999995,163.4 L377.04999999999995,169.20000000000002 L370.54999999999995,169.20000000000002 Z" fill="#fff"/>
<circle cx="373.79999999999995" cy="163.4" r="3.6" fill="#5b9a3c"/>
<path d="M388.29999999999995,163.4 L391.54999999999995,157.6 L398.04999999999995,157.6 L401.29999999999995,163.4 L398.04999999999995,169.20000000000002 L391.54999999999995,169.20000000000002 Z" fill="#fff"/>
<circle cx="394.79999999999995" cy="163.4" r="3.6" fill="#5b9a3c"/>
<path d="M409.5,163.4 L412.75,157.6 L419.25,157.6 L422.5,163.4 L419.25,169.20000000000002 L412.75,169.20000000000002 Z" fill="#fff"/>
<path d="M416,159.4 L420,163.4 L416,167.4 L412,163.4 Z" fill="#e3873a"/>
<path d="M432.29999999999995,163.4 L435.54999999999995,157.6 L442.04999999999995,157.6 L445.29999999999995,163.4 L442.04999999999995,169.20000000000002 L435.54999999999995,169.20000000000002 Z" fill="#fff"/>
<circle cx="438.79999999999995" cy="163.4" r="3.6" fill="#5b9a3c"/>
<path d="M454.29999999999995,163.4 L457.54999999999995,157.6 L464.04999999999995,157.6 L467.29999999999995,163.4 L464.04999999999995,169.20000000000002 L457.54999999999995,169.20000000000002 Z" fill="#fff"/>
<path d="M460.79999999999995,159.4 L464.79999999999995,163.4 L460.79999999999995,167.4 L456.79999999999995,163.4 Z" fill="#e3873a"/>
<circle cx="460.79999999999995" cy="163.4" r="2" fill="#5b9a3c"/>
<path d="M492.9,163.4 L496.15,157.6 L502.65,157.6 L505.9,163.4 L502.65,169.20000000000002 L496.15,169.20000000000002 Z" fill="#fff"/>
<rect x="496.09999999999997" y="160.1" width="6.6" height="6.6" fill="#46699a"/>
<path d="M513.5,163.4 L516.75,157.6 L523.25,157.6 L526.5,163.4 L523.25,169.20000000000002 L516.75,169.20000000000002 Z" fill="#fff"/>
<path d="M520,159.4 L524,163.4 L520,167.4 L516,163.4 Z" fill="#e3873a"/>
<circle cx="520" cy="163.4" r="2" fill="#5b9a3c"/>
<path d="M533.9,163.4 L537.15,157.6 L543.65,157.6 L546.9,163.4 L543.65,169.20000000000002 L537.15,169.20000000000002 Z" fill="#fff"/>
<path d="M540.4,159.4 L544.4,163.4 L540.4,167.4 L536.4,163.4 Z" fill="#e3873a"/>
<path d="M563.7,163.4 L566.95,157.6 L573.45,157.6 L576.7,163.4 L573.45,169.20000000000002 L566.95,169.20000000000002 Z" fill="#fff"/>
<rect x="566.9000000000001" y="160.1" width="6.6" height="6.6" fill="#46699a"/>
<path d="M581.5,163.4 L584.75,157.6 L591.25,157.6 L594.5,163.4 L591.25,169.20000000000002 L584.75,169.20000000000002 Z" fill="#fff"/>
<path d="M588,159.4 L592,163.4 L588,167.4 L584,163.4 Z" fill="#e3873a"/>
<circle cx="588" cy="163.4" r="2" fill="#5b9a3c"/>
<path d="M193.5,207 L204.5,207 L204.5,218.8 L210.3,218.8 L199,226.60000000000002 L187.7,218.8 L193.5,218.8 Z" fill="#e3873a"/>
<text x="199.00" y="209.96" font-size="5" fill="#ffffff" text-anchor="middle" font-family="Liberation Sans, sans-serif">改</text>
<text x="199.00" y="215.16" font-size="5" fill="#ffffff" text-anchor="middle" font-family="Liberation Sans, sans-serif">善</text>
<text x="199.00" y="220.36" font-size="5" fill="#ffffff" text-anchor="middle" font-family="Liberation Sans, sans-serif">品</text>
<path d="M401.5,207 L412.5,207 L412.5,218.8 L418.3,218.8 L407,226.60000000000002 L395.7,218.8 L401.5,218.8 Z" fill="#e3873a"/>
<text x="407.00" y="209.96" font-size="5" fill="#ffffff" text-anchor="middle" font-family="Liberation Sans, sans-serif">改</text>
<text x="407.00" y="215.16" font-size="5" fill="#ffffff" text-anchor="middle" font-family="Liberation Sans, sans-serif">善</text>
<text x="407.00" y="220.36" font-size="5" fill="#ffffff" text-anchor="middle" font-family="Liberation Sans, sans-serif">品</text>
<path d="M535.5,207 L546.5,207 L546.5,218.8 L552.3,218.8 L541,226.60000000000002 L529.7,218.8 L535.5,218.8 Z" fill="#e3873a"/>
<text x="541.00" y="209.96" font-size="5" fill="#ffffff" text-anchor="middle" font-family="Liberation Sans, sans-serif">改</text>
<text x="541.00" y="215.16" font-size="5" fill="#ffffff" text-anchor="middle" font-family="Liberation Sans, sans-serif">善</text>
<text x="541.00" y="220.36" font-size="5" fill="#ffffff" text-anchor="middle" font-family="Liberation Sans, sans-serif">品</text>
<rect x="113.9" y="242" width="17.2" height="74" fill="#5aa0cf"/>
<rect x="190.4" y="242" width="17.2" height="74" fill="#5aa0cf"/>
<rect x="232.6" y="242" width="17.2" height="74" fill="#5aa0cf"/>
<rect x="365.4" y="242" width="17.2" height="74" fill="#5aa0cf"/>
<rect x="398.6" y="242" width="17.2" height="74" fill="#5aa0cf"/>
<rect x="452.4" y="242" width="17.2" height="74" fill="#5aa0cf"/>
<rect x="511.4" y="242" width="17.2" height="74" fill="#5aa0cf"/>
<rect x="532.4" y="242" width="17.2" height="74" fill="#5aa0cf"/>
<rect x="575.4" y="242" width="17.2" height="74" fill="#5aa0cf"/>
<path d="M116.0,234.2 L119.25,228.39999999999998 L125.75,228.39999999999998 L129.0,234.2 L125.75,240.0 L119.25,240.0 Z" fill="#5aa0cf"/>
<path d="M119.3,232.1 L125.7,232.1 L124.3,234.2 L125.7,236.29999999999998 L119.3,236.29999999999998 L120.7,234.2 Z" fill="#fff"/>
<text x="122.50" y="254.68" font-size="6.2" fill="#e8f2fa" text-anchor="middle" font-family="Liberation Sans, sans-serif">供</text>
<text x="122.50" y="261.18" font-size="6.2" fill="#e8f2fa" text-anchor="middle" font-family="Liberation Sans, sans-serif">应</text>
<text x="122.50" y="267.68" font-size="6.2" fill="#e8f2fa" text-anchor="middle" font-family="Liberation Sans, sans-serif">商</text>
<text x="122.50" y="274.18" font-size="6.2" fill="#e8f2fa" text-anchor="middle" font-family="Liberation Sans, sans-serif">来</text>
<text x="122.50" y="280.68" font-size="6.2" fill="#e8f2fa" text-anchor="middle" font-family="Liberation Sans, sans-serif">料</text>
<text x="122.50" y="287.18" font-size="6.2" fill="#e8f2fa" text-anchor="middle" font-family="Liberation Sans, sans-serif">质</text>
<text x="122.50" y="293.68" font-size="6.2" fill="#e8f2fa" text-anchor="middle" font-family="Liberation Sans, sans-serif">量</text>
<text x="122.50" y="300.18" font-size="6.2" fill="#e8f2fa" text-anchor="middle" font-family="Liberation Sans, sans-serif">月</text>
<text x="122.50" y="306.68" font-size="6.2" fill="#e8f2fa" text-anchor="middle" font-family="Liberation Sans, sans-serif">报</text>
<path d="M192.5,234.2 L195.75,228.39999999999998 L202.25,228.39999999999998 L205.5,234.2 L202.25,240.0 L195.75,240.0 Z" fill="#5aa0cf"/>
<path d="M195.8,232.1 L202.2,232.1 L200.8,234.2 L202.2,236.29999999999998 L195.8,236.29999999999998 L197.2,234.2 Z" fill="#fff"/>
<text x="199.00" y="264.43" font-size="6.2" fill="#e8f2fa" text-anchor="middle" font-family="Liberation Sans, sans-serif">器</text>
<text x="199.00" y="270.93" font-size="6.2" fill="#e8f2fa" text-anchor="middle" font-family="Liberation Sans, sans-serif">件</text>
<text x="199.00" y="277.43" font-size="6.2" fill="#e8f2fa" text-anchor="middle" font-family="Liberation Sans, sans-serif">失</text>
<text x="199.00" y="283.93" font-size="6.2" fill="#e8f2fa" text-anchor="middle" font-family="Liberation Sans, sans-serif">效</text>
<text x="199.00" y="290.43" font-size="6.2" fill="#e8f2fa" text-anchor="middle" font-family="Liberation Sans, sans-serif">分</text>
<text x="199.00" y="296.93" font-size="6.2" fill="#e8f2fa" text-anchor="middle" font-family="Liberation Sans, sans-serif">析</text>
<path d="M234.7,234.2 L237.95,228.39999999999998 L244.45,228.39999999999998 L247.7,234.2 L244.45,240.0 L237.95,240.0 Z" fill="#5aa0cf"/>
<path d="M238.0,232.1 L244.39999999999998,232.1 L243.0,234.2 L244.39999999999998,236.29999999999998 L238.0,236.29999999999998 L239.39999999999998,234.2 Z" fill="#fff"/>
<text transform="translate(238.97,248.25) rotate(90)" font-size="6.2" fill="#e8f2fa" font-family="Liberation Sans, sans-serif">FDPPM</text>
<text x="241.20" y="275.78" font-size="6.2" fill="#e8f2fa" text-anchor="middle" font-family="Liberation Sans, sans-serif">、</text>
<text x="241.20" y="282.28" font-size="6.2" fill="#e8f2fa" text-anchor="middle" font-family="Liberation Sans, sans-serif">单</text>
<text x="241.20" y="288.78" font-size="6.2" fill="#e8f2fa" text-anchor="middle" font-family="Liberation Sans, sans-serif">板</text>
<text x="241.20" y="295.28" font-size="6.2" fill="#e8f2fa" text-anchor="middle" font-family="Liberation Sans, sans-serif">直</text>
<text x="241.20" y="301.78" font-size="6.2" fill="#e8f2fa" text-anchor="middle" font-family="Liberation Sans, sans-serif">通</text>
<text x="241.20" y="308.28" font-size="6.2" fill="#e8f2fa" text-anchor="middle" font-family="Liberation Sans, sans-serif">率</text>
<path d="M367.5,234.2 L370.75,228.39999999999998 L377.25,228.39999999999998 L380.5,234.2 L377.25,240.0 L370.75,240.0 Z" fill="#5aa0cf"/>
<path d="M370.8,232.1 L377.2,232.1 L375.8,234.2 L377.2,236.29999999999998 L370.8,236.29999999999998 L372.2,234.2 Z" fill="#fff"/>
<text transform="translate(371.77,248.25) rotate(90)" font-size="6.2" fill="#e8f2fa" font-family="Liberation Sans, sans-serif">FDPPM</text>
<text x="374.00" y="275.78" font-size="6.2" fill="#e8f2fa" text-anchor="middle" font-family="Liberation Sans, sans-serif">、</text>
<text x="374.00" y="282.28" font-size="6.2" fill="#e8f2fa" text-anchor="middle" font-family="Liberation Sans, sans-serif">整</text>
<text x="374.00" y="288.78" font-size="6.2" fill="#e8f2fa" text-anchor="middle" font-family="Liberation Sans, sans-serif">机</text>
<text x="374.00" y="295.28" font-size="6.2" fill="#e8f2fa" text-anchor="middle" font-family="Liberation Sans, sans-serif">直</text>
<text x="374.00" y="301.78" font-size="6.2" fill="#e8f2fa" text-anchor="middle" font-family="Liberation Sans, sans-serif">通</text>
<text x="374.00" y="308.28" font-size="6.2" fill="#e8f2fa" text-anchor="middle" font-family="Liberation Sans, sans-serif">率</text>
<path d="M400.70000000000005,234.2 L403.95000000000005,228.39999999999998 L410.45000000000005,228.39999999999998 L413.70000000000005,234.2 L410.45000000000005,240.0 L403.95000000000005,240.0 Z" fill="#5aa0cf"/>
<path d="M404.00000000000006,232.1 L410.40000000000003,232.1 L409.00000000000006,234.2 L410.40000000000003,236.29999999999998 L404.00000000000006,236.29999999999998 L405.40000000000003,234.2 Z" fill="#fff"/>
<text x="407.20" y="264.43" font-size="6.2" fill="#e8f2fa" text-anchor="middle" font-family="Liberation Sans, sans-serif">整</text>
<text x="407.20" y="270.93" font-size="6.2" fill="#e8f2fa" text-anchor="middle" font-family="Liberation Sans, sans-serif">机</text>
<text x="407.20" y="277.43" font-size="6.2" fill="#e8f2fa" text-anchor="middle" font-family="Liberation Sans, sans-serif">不</text>
<text x="407.20" y="283.93" font-size="6.2" fill="#e8f2fa" text-anchor="middle" font-family="Liberation Sans, sans-serif">良</text>
<text x="407.20" y="290.43" font-size="6.2" fill="#e8f2fa" text-anchor="middle" font-family="Liberation Sans, sans-serif">分</text>
<text x="407.20" y="296.93" font-size="6.2" fill="#e8f2fa" text-anchor="middle" font-family="Liberation Sans, sans-serif">析</text>
<path d="M454.5,234.2 L457.75,228.39999999999998 L464.25,228.39999999999998 L467.5,234.2 L464.25,240.0 L457.75,240.0 Z" fill="#5aa0cf"/>
<path d="M457.8,232.1 L464.2,232.1 L462.8,234.2 L464.2,236.29999999999998 L457.8,236.29999999999998 L459.2,234.2 Z" fill="#fff"/>
<text transform="translate(458.77,248.79) rotate(90)" font-size="6.2" fill="#e8f2fa" font-family="Liberation Sans, sans-serif">OQC</text>
<text x="461.00" y="268.74" font-size="6.2" fill="#e8f2fa" text-anchor="middle" font-family="Liberation Sans, sans-serif">厂</text>
<text x="461.00" y="275.24" font-size="6.2" fill="#e8f2fa" text-anchor="middle" font-family="Liberation Sans, sans-serif">来</text>
<text x="461.00" y="281.74" font-size="6.2" fill="#e8f2fa" text-anchor="middle" font-family="Liberation Sans, sans-serif">料</text>
<text x="461.00" y="288.24" font-size="6.2" fill="#e8f2fa" text-anchor="middle" font-family="Liberation Sans, sans-serif">质</text>
<text x="461.00" y="294.74" font-size="6.2" fill="#e8f2fa" text-anchor="middle" font-family="Liberation Sans, sans-serif">量</text>
<text x="461.00" y="301.24" font-size="6.2" fill="#e8f2fa" text-anchor="middle" font-family="Liberation Sans, sans-serif">月</text>
<text x="461.00" y="307.74" font-size="6.2" fill="#e8f2fa" text-anchor="middle" font-family="Liberation Sans, sans-serif">报</text>
<path d="M513.5,234.2 L516.75,228.39999999999998 L523.25,228.39999999999998 L526.5,234.2 L523.25,240.0 L516.75,240.0 Z" fill="#5aa0cf"/>
<path d="M516.8,232.1 L523.2,232.1 L521.8,234.2 L523.2,236.29999999999998 L516.8,236.29999999999998 L518.2,234.2 Z" fill="#fff"/>
<text x="520.00" y="270.93" font-size="6.2" fill="#e8f2fa" text-anchor="middle" font-family="Liberation Sans, sans-serif">厂</text>
<text x="520.00" y="277.43" font-size="6.2" fill="#e8f2fa" text-anchor="middle" font-family="Liberation Sans, sans-serif">验</text>
<text x="520.00" y="283.93" font-size="6.2" fill="#e8f2fa" text-anchor="middle" font-family="Liberation Sans, sans-serif">不</text>
<text x="520.00" y="290.43" font-size="6.2" fill="#e8f2fa" text-anchor="middle" font-family="Liberation Sans, sans-serif">良</text>
<path d="M534.5,234.2 L537.75,228.39999999999998 L544.25,228.39999999999998 L547.5,234.2 L544.25,240.0 L537.75,240.0 Z" fill="#5aa0cf"/>
<path d="M537.8,232.1 L544.2,232.1 L542.8,234.2 L544.2,236.29999999999998 L537.8,236.29999999999998 L539.2,234.2 Z" fill="#fff"/>
<text x="541.00" y="260.46" font-size="6.2" fill="#e8f2fa" text-anchor="middle" font-family="Liberation Sans, sans-serif">净</text>
<text transform="translate(538.77,262.13) rotate(90)" font-size="6.2" fill="#e8f2fa" font-family="Liberation Sans, sans-serif">DOA</text>
<text x="541.00" y="281.40" font-size="6.2" fill="#e8f2fa" text-anchor="middle" font-family="Liberation Sans, sans-serif">不</text>
<text x="541.00" y="287.90" font-size="6.2" fill="#e8f2fa" text-anchor="middle" font-family="Liberation Sans, sans-serif">良</text>
<text x="541.00" y="294.40" font-size="6.2" fill="#e8f2fa" text-anchor="middle" font-family="Liberation Sans, sans-serif">分</text>
<text x="541.00" y="300.90" font-size="6.2" fill="#e8f2fa" text-anchor="middle" font-family="Liberation Sans, sans-serif">析</text>
<path d="M577.5,234.2 L580.75,228.39999999999998 L587.25,228.39999999999998 L590.5,234.2 L587.25,240.0 L580.75,240.0 Z" fill="#5aa0cf"/>
<path d="M580.8,232.1 L587.2,232.1 L585.8,234.2 L587.2,236.29999999999998 L580.8,236.29999999999998 L582.2,234.2 Z" fill="#fff"/>
<text x="587.40" y="253.96" font-size="6.2" fill="#e8f2fa" text-anchor="middle" font-family="Liberation Sans, sans-serif">客</text>
<text x="587.40" y="260.46" font-size="6.2" fill="#e8f2fa" text-anchor="middle" font-family="Liberation Sans, sans-serif">户</text>
<text x="587.40" y="266.96" font-size="6.2" fill="#e8f2fa" text-anchor="middle" font-family="Liberation Sans, sans-serif">故</text>
<text x="587.40" y="273.46" font-size="6.2" fill="#e8f2fa" text-anchor="middle" font-family="Liberation Sans, sans-serif">障</text>
<text x="587.40" y="279.96" font-size="6.2" fill="#e8f2fa" text-anchor="middle" font-family="Liberation Sans, sans-serif">率</text>
<text x="587.40" y="286.46" font-size="6.2" fill="#e8f2fa" text-anchor="middle" font-family="Liberation Sans, sans-serif">、</text>
<text transform="translate(585.17,288.13) rotate(90)" font-size="6.2" fill="#e8f2fa" font-family="Liberation Sans, sans-serif">DOA</text>
<text x="587.40" y="307.40" font-size="6.2" fill="#e8f2fa" text-anchor="middle" font-family="Liberation Sans, sans-serif">、</text>
<text transform="translate(578.37,242.43) rotate(90)" font-size="6.2" fill="#e8f2fa" font-family="Liberation Sans, sans-serif">FRR</text>
<text x="580.60" y="261.01" font-size="6.2" fill="#e8f2fa" text-anchor="middle" font-family="Liberation Sans, sans-serif">、</text>
<text transform="translate(578.37,262.68) rotate(90)" font-size="6.2" fill="#e8f2fa" font-family="Liberation Sans, sans-serif">YRR</text>
<text x="580.60" y="281.60" font-size="6.2" fill="#e8f2fa" text-anchor="middle" font-family="Liberation Sans, sans-serif">、</text>
<text x="580.60" y="288.10" font-size="6.2" fill="#e8f2fa" text-anchor="middle" font-family="Liberation Sans, sans-serif">一</text>
<text x="580.60" y="294.60" font-size="6.2" fill="#e8f2fa" text-anchor="middle" font-family="Liberation Sans, sans-serif">次</text>
<text x="580.60" y="301.10" font-size="6.2" fill="#e8f2fa" text-anchor="middle" font-family="Liberation Sans, sans-serif">维</text>
<text x="580.60" y="307.60" font-size="6.2" fill="#e8f2fa" text-anchor="middle" font-family="Liberation Sans, sans-serif">修</text>
<text x="580.60" y="314.10" font-size="6.2" fill="#e8f2fa" text-anchor="middle" font-family="Liberation Sans, sans-serif">率</text>
<g transform="translate(-258,-92)" fill="#e8e2da"><path d="M313,276.5 A5.5,5.5 0 0 1 324,276.5 Z"/><rect x="312.2" y="276" width="12.6" height="1.6"/><ellipse cx="318.5" cy="280" rx="3.8" ry="3"/><path d="M312,289.5 Q312,284.6 318.5,284.2 Q325,284.6 325,289.5 Z"/></g>
<g transform="translate(-258,-92)" fill="#e8e2da" stroke="#46699a" stroke-width="0.9"><path d="M302.8,291.6 Q302.8,286.9 309.8,286.6 Q316.8,286.9 316.8,291.6 Z"/><ellipse cx="309.8" cy="283.6" rx="4.3" ry="3.3"/><path d="M303.6,280.6 A6.2,6.2 0 0 1 316,280.6 Z"/><rect x="302.4" y="280" width="14.8" height="1.9"/></g>
<text x="55.39999999999998" y="215.2" font-size="11" font-weight="bold" fill="#ffffff" text-anchor="middle" font-family="Liberation Sans, sans-serif">供</text>
<text x="55.39999999999998" y="227.09999999999997" font-size="11" font-weight="bold" fill="#ffffff" text-anchor="middle" font-family="Liberation Sans, sans-serif">应</text>
<text x="55.39999999999998" y="239.0" font-size="11" font-weight="bold" fill="#ffffff" text-anchor="middle" font-family="Liberation Sans, sans-serif">商</text>
<g transform="translate(-258,-92)" fill="#e3dcd6"><ellipse cx="921" cy="282.5" rx="5" ry="6.5"/><path d="M912,296 Q912,289.5 918,288.5 L921,290 L924,288.5 Q930.5,289.5 930.5,296 Z"/></g>
<path d="M662.2,198 L663.8,198 L664.3,203 L663,204 L661.7,203 Z" fill="#e3873a"/>
<text x="663" y="221.8" font-size="11" font-weight="bold" fill="#ffffff" text-anchor="middle" font-family="Liberation Sans, sans-serif">客</text>
<text x="663" y="233.40000000000003" font-size="11" font-weight="bold" fill="#ffffff" text-anchor="middle" font-family="Liberation Sans, sans-serif">户</text>
<path d="M259.70000000000005,329.2 L263.5,333 L259.70000000000005,336.8 L255.89999999999998,333 Z" fill="#e3873a"/>
<text x="267" y="335.6" font-size="6.6" fill="#8398ab" font-family="Liberation Sans, sans-serif">质量检验点</text>
<circle cx="318.29999999999995" cy="333" r="3.6" fill="#5b9a3c"/>
<text x="326" y="335.6" font-size="6.6" fill="#8398ab" font-family="Liberation Sans, sans-serif">关键质量控制点</text>
<path d="M388.29999999999995,330.7 L395.1,330.7 L393.5,333 L395.1,335.3 L388.29999999999995,335.3 L389.9,333 Z" fill="#5aa0cf"/>
<text x="399" y="335.6" font-size="6.6" fill="#8398ab" font-family="Liberation Sans, sans-serif">质量数据统计（QA）</text>
</svg>
</div>
</body></html>
